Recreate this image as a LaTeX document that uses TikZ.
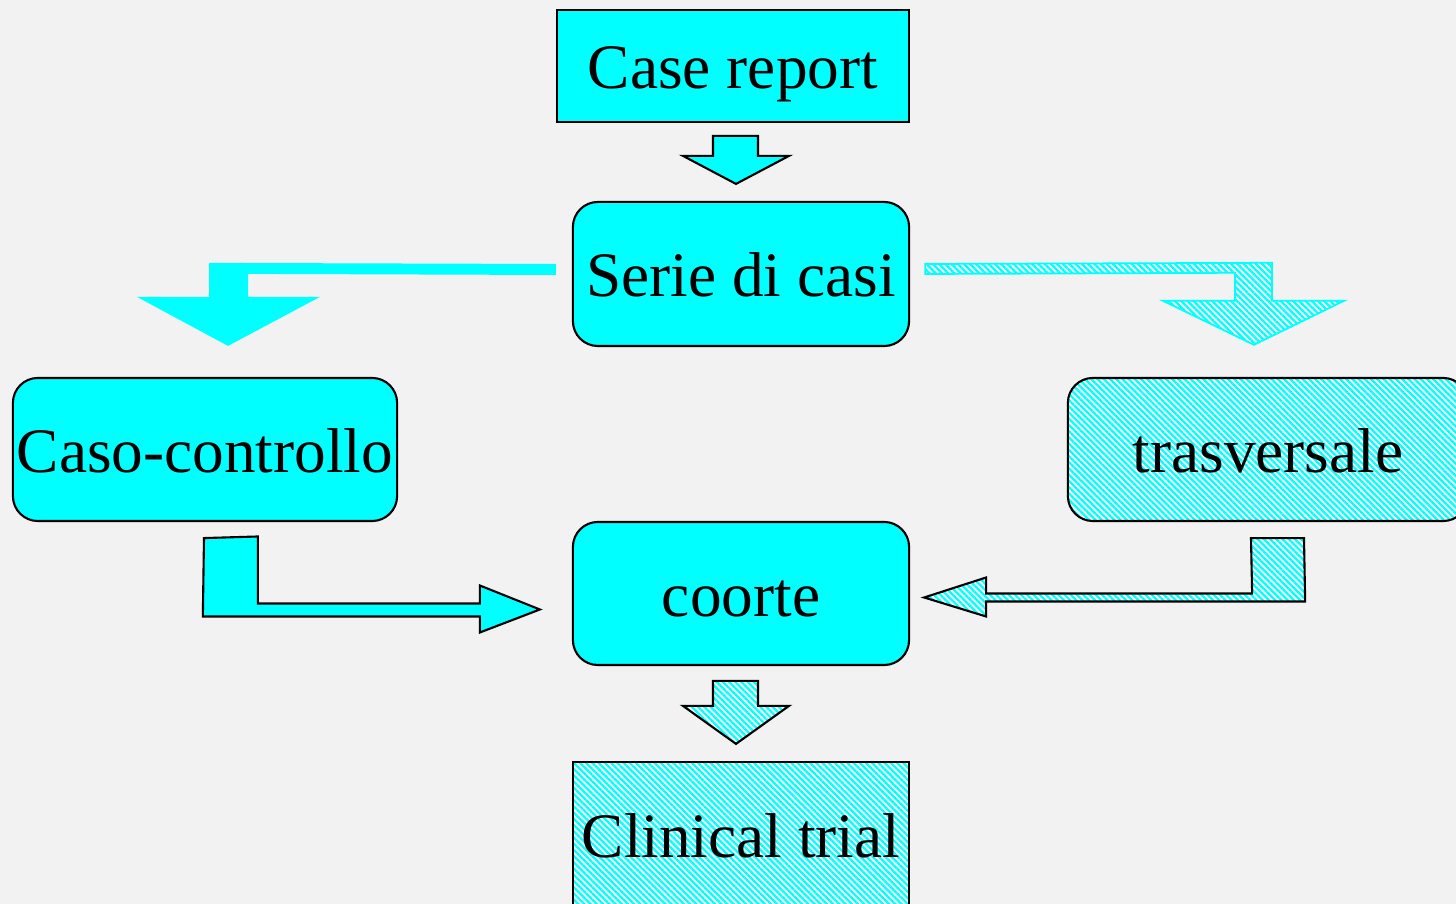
\documentclass[tikz,border=0pt]{standalone}
\usepackage{fontspec}
\setmainfont{Liberation Serif}
\usepackage{xcolor}
\usetikzlibrary{calc,patterns.meta}
\definecolor{studyCyan}{HTML}{00FFFF}
\definecolor{studyPaper}{HTML}{F2F2F2}

\begin{document}
\begin{tikzpicture}[x=0.01cm,y=-0.01cm,
    plainbox/.style={draw=black,line width=0.6pt,fill=studyCyan,inner sep=0pt,text height=14pt,text depth=1pt,font=\fontsize{18}{22}\selectfont},
    roundbox/.style={plainbox,rounded corners=0.25cm},
    hatched/.style={preaction={fill=white},pattern={Lines[angle=-45,distance=1.25pt,line width=0.65pt]},pattern color=studyCyan},
    hatchbox/.style={plainbox,fill=none,hatched},
    solidarrow/.style={draw=black,line width=0.6pt,fill=studyCyan,line join=miter},
    hatcharrow/.style={draw=black,line width=0.6pt,hatched,line join=miter}]
  \useasboundingbox[fill=studyPaper] (0,0) rectangle (1456,904);

  \node[plainbox,minimum width=3.52cm,minimum height=1.12cm] (caserep) at (733,66) {Case report};
  \node[roundbox,minimum width=3.36cm,minimum height=1.44cm] (serie) at (741,274) {Serie di casi};
  \node[roundbox,minimum width=3.84cm,minimum height=1.43cm] (caso) at (205,449.5) {Caso-controllo};
  \node[hatchbox,rounded corners=0.25cm,minimum width=4cm,minimum height=1.43cm] (trasv) at (1268,449.5) {trasversale};
  \node[roundbox,minimum width=3.36cm,minimum height=1.43cm] (coorte) at (741,593.5) {coorte};
  \node[hatchbox,minimum width=3.36cm,minimum height=1.46cm] (clinical) at (741,835) {Clinical trial};

  % arrow tips
  \coordinate (t1) at ($(serie.north)+(-5,-17)$);
  \coordinate (t2) at ($(caso.north)+(23,-31)$);
  \coordinate (t3) at ($(trasv.north)+(-14,-32)$);
  \coordinate (t4) at ($(coorte.west)+(-32,16)$);
  \coordinate (t5) at ($(coorte.east)+(14,4)$);
  \coordinate (t6) at ($(clinical.north)+(-5,-17)$);

  % case report -> serie di casi
  \draw[solidarrow] ($(t1)+(-23,-48)$) -- ($(t1)+(22,-48)$) -- ($(t1)+(22,-28)$) -- ($(t1)+(53,-28)$)
    -- (t1) -- ($(t1)+(-53,-28)$) -- ($(t1)+(-23,-28)$) -- cycle;
  % serie di casi -> caso-controllo
  \fill[studyCyan] ($(serie.west)+(-16,-10)$) -- ($(t2)+(-19,-83)$) -- ($(t2)+(-19,-49)$) -- ($(t2)+(-91,-49)$)
    -- (t2) -- ($(t2)+(92,-49)$) -- ($(t2)+(20,-49)$) -- ($(t2)+(20,-72)$) -- ($(serie.west)+(-16,1)$) -- cycle;
  % serie di casi -> trasversale
  \draw[hatcharrow,draw=studyCyan,line width=0.5pt] ($(serie.east)+(15,-10)$) -- ($(t3)+(18,-82)$) -- ($(t3)+(18,-44)$)
    -- ($(t3)+(90,-44)$) -- (t3) -- ($(t3)+(-91,-44)$) -- ($(t3)+(-19,-44)$) -- ($(t3)+(-19,-72)$)
    -- ($(serie.east)+(15,0)$) -- cycle;
  % caso-controllo -> coorte
  \draw[solidarrow] ($(caso.south)+(-1,16)$) -- ($(t4)+(-282,-73)$) -- ($(t4)+(-282,-6)$) -- ($(t4)+(-60,-6)$)
    -- ($(t4)+(-60,-24)$) -- (t4) -- ($(t4)+(-60,23)$) -- ($(t4)+(-60,7)$) -- ($(t4)+(-337,7)$) -- cycle;
  % trasversale -> coorte
  \draw[hatcharrow] ($(trasv.south)+(36,16)$) -- ($(t5)+(381,4)$) -- ($(t5)+(62,4)$) -- ($(t5)+(62,19)$)
    -- (t5) -- ($(t5)+(62,-20)$) -- ($(t5)+(62,-4)$) -- ($(t5)+(328,-4)$) -- ($(trasv.south)+(-17,16)$) -- cycle;
  % coorte -> clinical trial
  \draw[hatcharrow] ($(t6)+(-23,-63)$) -- ($(t6)+(22,-63)$) -- ($(t6)+(22,-38)$) -- ($(t6)+(53,-38)$)
    -- (t6) -- ($(t6)+(-53,-38)$) -- ($(t6)+(-23,-38)$) -- cycle;
\end{tikzpicture}
\end{document}
